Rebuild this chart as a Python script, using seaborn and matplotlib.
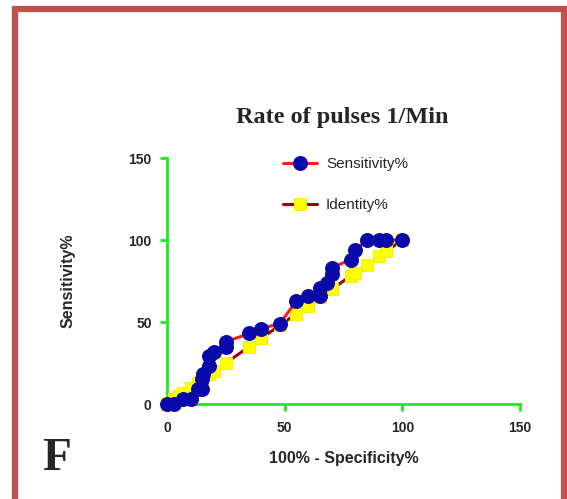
import matplotlib
matplotlib.use("Agg")
import matplotlib.pyplot as plt
from matplotlib.patches import Rectangle
import seaborn as sns
import pandas as pd

# ROC curve: 100% - specificity vs sensitivity
fpr = [0, 3, 7, 10, 13, 15, 15, 15.5, 18, 18, 20, 25, 25, 35, 40, 48,
       55, 60, 65, 65, 68, 70, 70, 78, 80, 85, 90, 93, 100]
sensitivity = [0, 0, 3, 3, 9, 9, 15, 18, 23, 29, 32, 35, 38, 43, 46, 49,
               63, 66, 66, 71, 74, 79, 83, 88, 94, 100, 100, 100, 100]
identity_x = [0, 3, 5, 7, 10, 13, 15, 18, 20, 25, 35, 40, 48,
              55, 60, 65, 70, 78, 80, 85, 90, 93, 100]
identity_y = [0, 3, 5, 7, 10, 13, 15, 18, 20, 25, 35, 40, 48,
              55, 60, 65, 70, 78, 80, 85, 90, 93, 100]
ticks = [0, 50, 100, 150]

roc = pd.DataFrame({"x": fpr, "y": sensitivity})
ident = pd.DataFrame({"x": identity_x, "y": identity_y})

sns.set_style("white")
plt.rcParams["font.family"] = ["Liberation Sans", "DejaVu Sans"]

fig = plt.figure(figsize=(5.67, 4.99), dpi=100)
ax = fig.add_axes([167 / 567, 95 / 499, 353 / 567, 246 / 499])

green = "#1EEB1E"

sns.lineplot(data=ident, x="x", y="y", estimator=None, sort=False, ax=ax,
             color="#9B0000", linewidth=2.2, marker="s", markersize=9,
             markerfacecolor="#FFFF00", markeredgecolor="#F2F200",
             label="Identity%", clip_on=False, zorder=3)
sns.lineplot(data=roc, x="x", y="y", estimator=None, sort=False, ax=ax,
             color="#FF1A1A", linewidth=2.2, marker="o", markersize=10,
             markerfacecolor="#0A0AAA", markeredgecolor="#0A0AAA",
             label="Sensitivity%", clip_on=False, zorder=4)

ax.set_xlim(0, 150)
ax.set_ylim(0, 150)
ax.set_xticks(ticks)
ax.set_yticks(ticks)
ax.set_xticklabels([str(t) for t in ticks], fontsize=10, fontweight="bold")
ax.set_yticklabels([str(t) for t in ticks], fontsize=10, fontweight="bold")

for side in ("top", "right"):
    ax.spines[side].set_visible(False)
for side in ("left", "bottom"):
    ax.spines[side].set_color(green)
    ax.spines[side].set_linewidth(2)
ax.tick_params(axis="x", direction="out", length=5, width=2,
               color=green, pad=7, bottom=True)
ax.tick_params(axis="y", direction="out", length=5, width=2,
               color=green, pad=6, left=True)

ax.set_xlabel("100% - Specificity%", fontsize=11.5, fontweight="bold",
              labelpad=12)
ax.set_ylabel("Sensitivity%", fontsize=11.5, fontweight="bold", labelpad=38)

fig.text(342 / 567, 1 - 118 / 499, "Rate of pulses 1/Min",
         ha="center", va="center", fontsize=17.5, fontweight="bold",
         family=["Liberation Serif", "DejaVu Serif"])

handles, labels = ax.get_legend_handles_labels()
leg = ax.legend(handles[::-1], labels[::-1], loc="upper left",
                bbox_to_anchor=(0.29, 1.06), frameon=False,
                fontsize=11, labelspacing=1.8, handlelength=2.2,
                handletextpad=0.6)

fig.text(57 / 567, 1 - 470 / 499, "F", ha="center", va="baseline",
         fontsize=34, fontweight="bold",
         family=["Liberation Serif", "DejaVu Serif"])

fig.patches.append(Rectangle((15 / 567, -0.1), 549 / 567, 1.1 - 8.5 / 499,
                             transform=fig.transFigure, fill=False,
                             edgecolor="#C4504E", linewidth=4.5))

fig.savefig("out.png", dpi=100)
